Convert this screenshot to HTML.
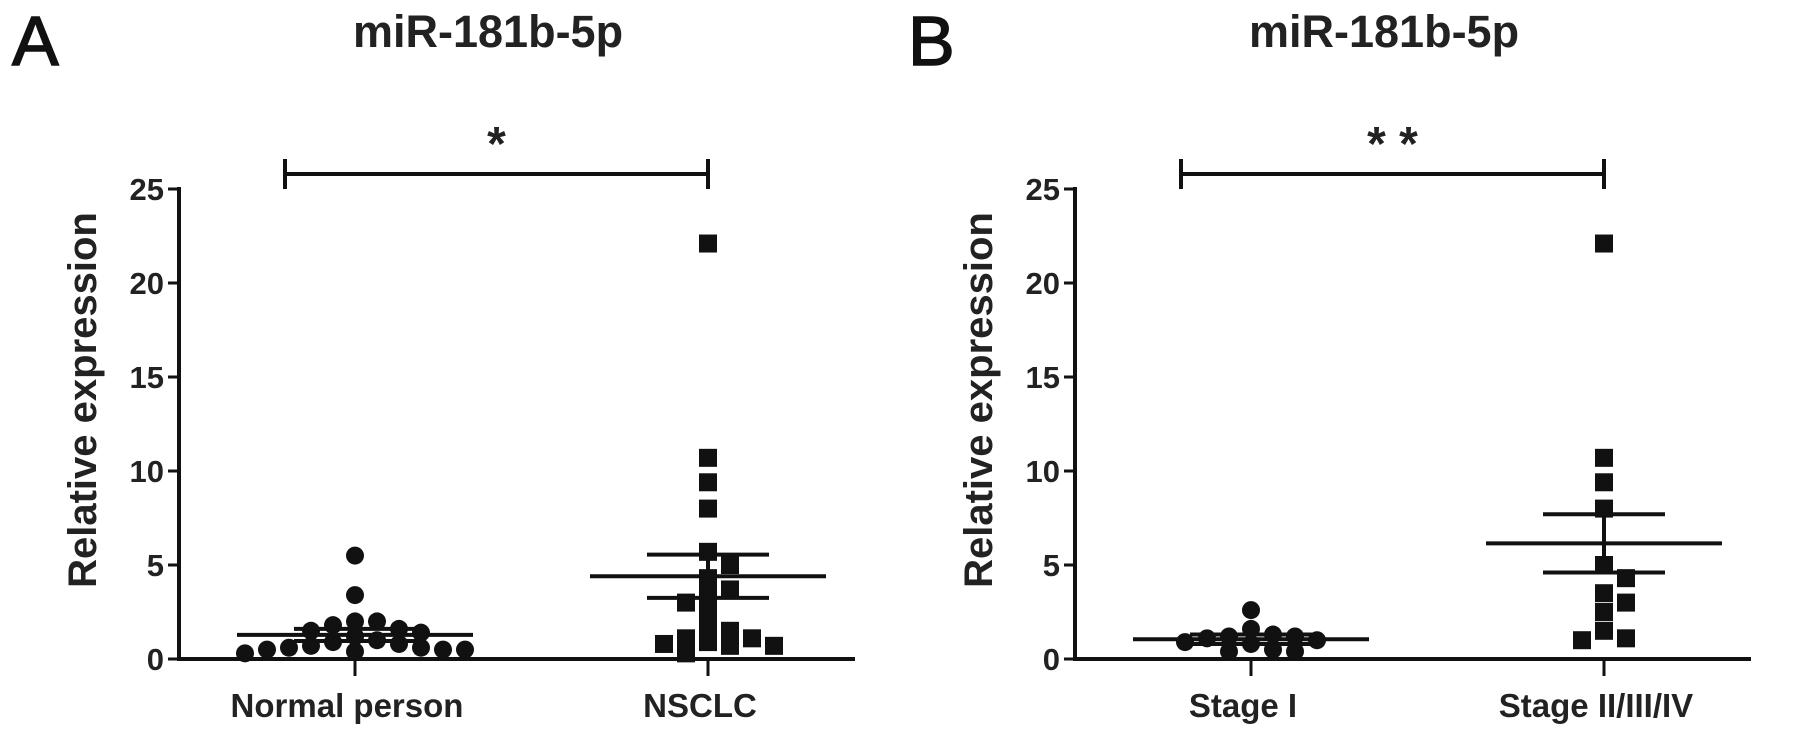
<!DOCTYPE html>
<html><head><meta charset="utf-8"><style>
html,body{margin:0;padding:0;background:#fff;}
svg{display:block;font-family:"Liberation Sans",Arial,sans-serif;}
</style></head><body>
<svg id="fig" width="1795" height="737" viewBox="0 0 1795 737"></svg>
<script>
// ---- data ----
const panelLetters = ["A", "B"];
const panelTitles = ["miR-181b-5p", "miR-181b-5p"];
const sigLabels = ["*", "* *"];
const catsA = ["Normal person", "NSCLC"];
const catsB = ["Stage I", "Stage II/III/IV"];
const yTicks = [0, 5, 10, 15, 20, 25];
const normalVals = [5.5, 3.4, 2.0, 2.0, 1.8, 1.6, 1.5, 1.4, 1.2, 1.0, 0.9, 0.8, 0.7, 0.6, 0.6, 0.5, 0.5, 0.5, 0.4, 0.3];
const nsclcVals = [22.1, 10.7, 9.4, 8.0, 5.7, 5.0, 4.3, 3.7, 3.5, 3.0, 2.6, 1.7, 1.5, 1.1, 1.1, 0.9, 0.8, 0.7, 0.7, 0.3];
const stage1Vals = [2.6, 1.6, 1.3, 1.2, 1.2, 1.1, 1.0, 0.9, 0.8, 0.5, 0.4, 0.4];
const stage234Vals = [22.1, 10.7, 9.4, 8.0, 5.0, 4.3, 3.5, 3.0, 2.5, 1.5, 1.1, 1.0];
const meansA = [1.28, 4.4];
const semsA = [0.32, 1.15];
const meansB = [1.05, 6.15];
const semsB = [0.25, 1.55];

// ---- layout ----
const NS = "http://www.w3.org/2000/svg";
const svg = document.getElementById("fig");
function mk(tag, attrs, parent) {
  const e = document.createElementNS(NS, tag);
  for (const k in attrs) e.setAttribute(k, attrs[k]);
  (parent || svg).appendChild(e);
  return e;
}
const Y0 = 659, PXU = 18.8;
function yScale(v) { return Y0 - v * PXU; }

function beeswarm(vals, cx) {
  const placed = [];
  const sorted = vals.map((v, i) => ({ v, i })).sort((a, b) => b.v - a.v);
  const out = new Array(vals.length);
  const step = 11, minDX = 21, minDY = 14;
  sorted.forEach(p => {
    const y = yScale(p.v);
    let dx = 0;
    for (let k = 0; k < 400; k++) {
      const cand = (k === 0) ? 0 : ((k % 2 ? 1 : -1) * Math.ceil(k / 2) * step);
      const ok = placed.every(q => !(Math.abs(q.x - (cx + cand)) < minDX && Math.abs(q.y - y) < minDY));
      if (ok) { dx = cand; break; }
    }
    placed.push({ x: cx + dx, y });
    out[p.i] = { x: cx + dx, y };
  });
  return out;
}

function panel(off, pi, cats, groups, means, sems) {
  const g = mk("g", {});
  
  
  const axX = 179 + off, axEnd = 855 + off;
  const catX = [355 + off, 708 + off];

  const L = mk("text", { x: 12 + off, y: 65, "font-size": 70, fill: "#111", stroke: "#111", "stroke-width": 1.5 }, g);
  L.textContent = panelLetters[pi];
  
  

  const T = mk("text", { x: 353 + off, y: 47, "font-size": 45, "font-weight": "bold", fill: "#222" }, g);
  T.textContent = panelTitles[pi];
  
  

  const yt = mk("text", { x: 0, y: 0, "font-size": 40, "font-weight": "bold", fill: "#222", "text-anchor": "middle",
    transform: "translate(" + (96 + off) + ",400) rotate(-90)" }, g);
  yt.textContent = "Relative expression";
  
  

  const ya = mk("line", { x1: axX, y1: yScale(25) - 2, x2: axX, y2: Y0 + 2, stroke: "#111", "stroke-width": 4 }, g);
  
  
  const xa = mk("line", { x1: axX - 2, y1: Y0, x2: axEnd, y2: Y0, stroke: "#111", "stroke-width": 4 }, g);
  
  

  yTicks.forEach(t => {
    const tk = mk("line", { x1: axX - 11, y1: yScale(t), x2: axX, y2: yScale(t), stroke: "#111", "stroke-width": 3 }, g);
    
    
    const tl = mk("text", { x: axX - 15, y: yScale(t) + 11, "font-size": 31, "font-weight": "bold", "text-anchor": "end", fill: "#222" }, g);
    tl.textContent = t;
    
    
  });

  cats.forEach((c, i) => {
    const tk = mk("line", { x1: catX[i], y1: Y0, x2: catX[i], y2: Y0 + 17, stroke: "#111", "stroke-width": 3 }, g);
    
    
    const tl = mk("text", { x: catX[i] - 8, y: 717, "font-size": 33, "font-weight": "bold", "text-anchor": "middle", fill: "#222" }, g);
    tl.textContent = c;
    
    
  });

  const sb = mk("g", {}, g);
  
  
  const bx1 = 285 + off, bx2 = catX[1], by = 174;
  mk("line", { x1: bx1, y1: by, x2: bx2, y2: by, stroke: "#111", "stroke-width": 4 }, sb);
  mk("line", { x1: bx1, y1: by - 15, x2: bx1, y2: by + 15, stroke: "#111", "stroke-width": 4 }, sb);
  mk("line", { x1: bx2, y1: by - 15, x2: bx2, y2: by + 15, stroke: "#111", "stroke-width": 4 }, sb);
  const st = mk("text", { x: (bx1 + bx2) / 2, y: 160, "font-size": 48, "font-weight": "bold", "text-anchor": "middle", fill: "#222" }, g);
  st.textContent = sigLabels[pi];
  
  

  groups.forEach((vals, gi) => {
    const pos = beeswarm(vals, catX[gi]);
    pos.forEach(p => {
      let m;
      if (gi === 0) {
        m = mk("circle", { cx: p.x, cy: p.y, r: 9, fill: "#111" }, g);
        
      } else {
        m = mk("rect", { x: p.x - 9, y: p.y - 9, width: 18, height: 18, fill: "#111" }, g);
        
      }
      
    });
    const cx = catX[gi];
    const ml = mk("line", { x1: cx - 118, y1: yScale(means[gi]), x2: cx + 118, y2: yScale(means[gi]), stroke: "#111", "stroke-width": 4 }, g);
    
    
    const hi = means[gi] + sems[gi], lo = means[gi] - sems[gi];
    const eb = mk("g", {}, g);
    
    
    mk("line", { x1: cx, y1: yScale(hi), x2: cx, y2: yScale(lo), stroke: "#111", "stroke-width": 4 }, eb);
    mk("line", { x1: cx - 61, y1: yScale(hi), x2: cx + 61, y2: yScale(hi), stroke: "#111", "stroke-width": 4 }, eb);
    mk("line", { x1: cx - 61, y1: yScale(lo), x2: cx + 61, y2: yScale(lo), stroke: "#111", "stroke-width": 4 }, eb);
  });
}

panel(0, 0, catsA, [normalVals, nsclcVals], meansA, semsA);
panel(896, 1, catsB, [stage1Vals, stage234Vals], meansB, semsB);
</script>
</body></html>
